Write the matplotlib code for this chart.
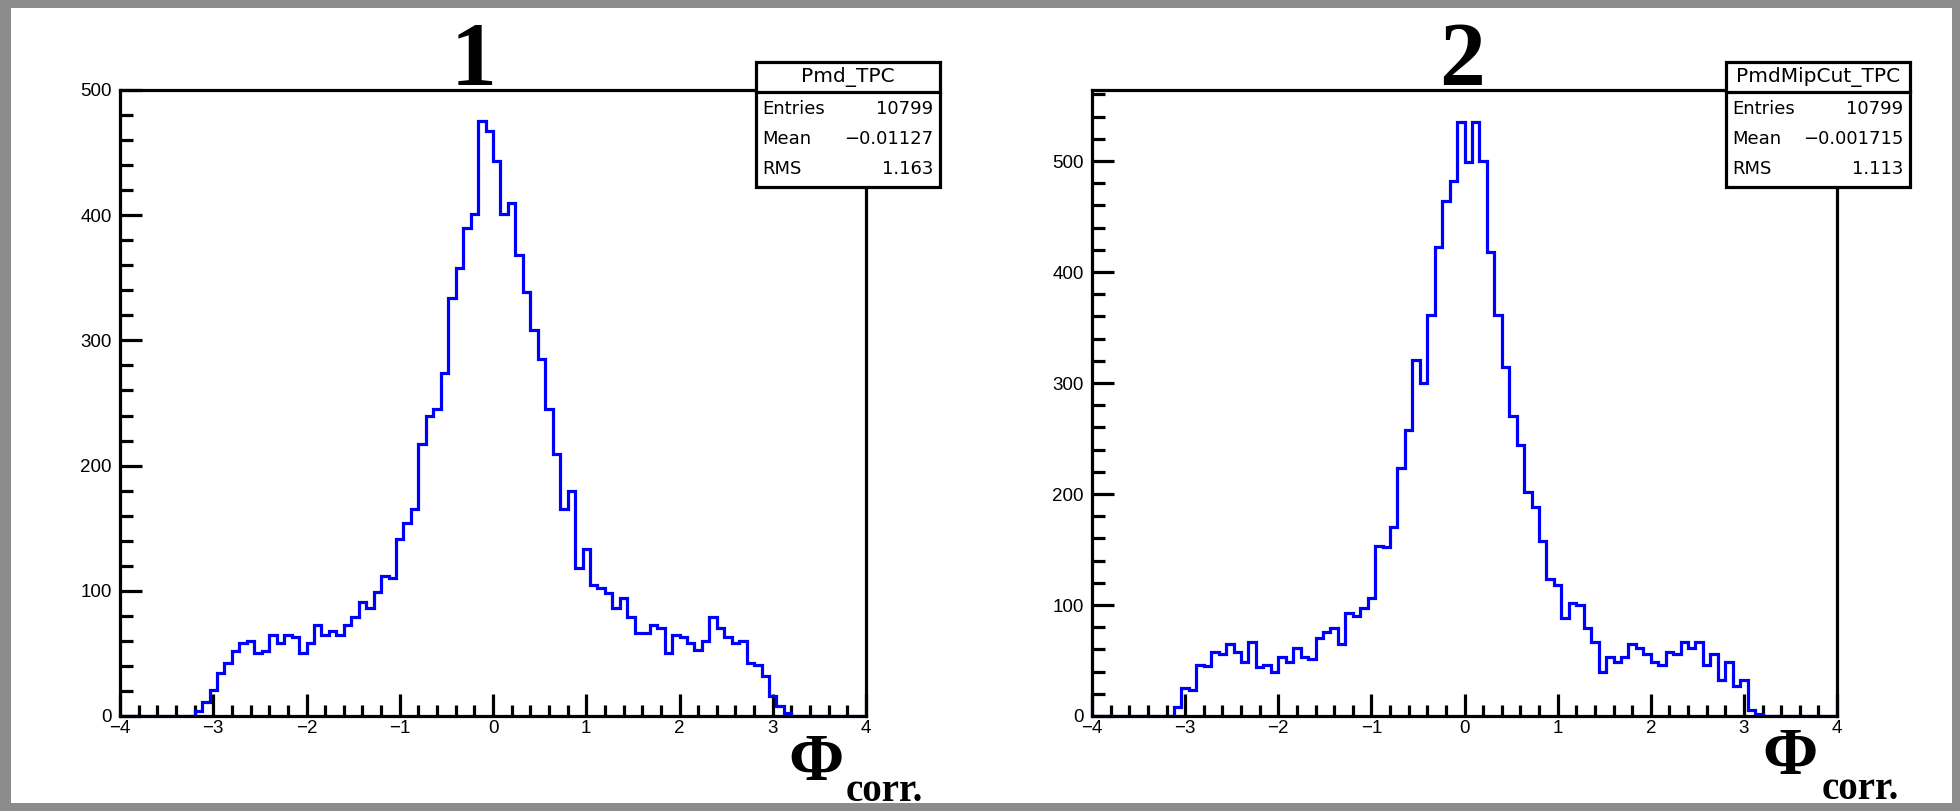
import matplotlib.pyplot as plt
import numpy as np
from matplotlib.patches import Rectangle
from matplotlib.ticker import MultipleLocator

# phi_corr histograms, 100 bins over [-4, 4]
bin_edges = np.linspace(-4, 4, 101)

pmd_tpc = [0] * 10 + [
    4, 11, 21, 34, 42, 52, 58, 60, 50, 52,
    65, 58, 65, 63, 50, 58, 73, 65, 68, 65,
    73, 79, 91, 86, 99, 112, 110, 141, 154, 165,
    217, 240, 245, 274, 334, 358, 390, 401, 475, 467,
    443, 401, 410, 368, 339, 308, 285, 245, 209, 165,
    180, 118, 133, 105, 102, 98, 86, 94, 79, 66,
    66, 73, 70, 50, 65, 63, 58, 53, 60, 79,
    70, 63, 58, 60, 42, 41, 32, 16, 8, 2,
] + [0] * 10

pmd_mipcut_tpc = [0] * 11 + [
    8, 25, 23, 46, 45, 58, 56, 65, 58, 49,
    67, 44, 46, 40, 53, 49, 61, 53, 51, 70,
    76, 79, 65, 93, 90, 97, 106, 153, 152, 170,
    223, 258, 321, 300, 361, 423, 464, 482, 535,
    499, 535, 500, 418, 361, 314, 270, 244, 202, 188,
    158, 123, 118, 88, 102, 100, 79, 67, 40, 53,
    49, 53, 65, 61, 56, 49, 46, 58, 56, 67,
    61, 67, 46, 56, 32, 49, 27, 32, 5, 2,
] + [0] * 10

panel_titles = ["1", "2"]
hist_names = ["Pmd_TPC", "PmdMipCut_TPC"]
stat_labels = ["Entries", "Mean", "RMS"]
stat_values = [
    ["10799", "\u22120.01127", "1.163"],
    ["10799", "\u22120.001715", "1.113"],
]
y_max = [500, 564]

W, H = 1960, 811
fig = plt.figure(figsize=(W / 100, H / 100), dpi=100)
fig.patch.set_facecolor("#8c8c8c")
# white canvas inside the grey frame
fig.patches.append(Rectangle((11 / W, 1 - 803 / H), (1952 - 11) / W, (803 - 8) / H,
                             transform=fig.transFigure, facecolor="white",
                             edgecolor="none", zorder=-5))


def fx(x):
    return x / W


def fy(y):
    return 1 - y / H


def draw_panel(left, right, counts, title, name, values, ymax, title_x, box_x,
               phi_xy, corr_xy):
    ax = fig.add_axes([fx(left), fy(716), fx(right - left), (716 - 90) / H])
    ax.stairs(counts, bin_edges, color="#0000ff", linewidth=2.3, zorder=2)
    ax.set_xlim(-4, 4)
    ax.set_ylim(0, ymax)
    for s in ax.spines.values():
        s.set_linewidth(2.3)
    ax.xaxis.set_major_locator(MultipleLocator(1))
    ax.xaxis.set_minor_locator(MultipleLocator(0.2))
    ax.yaxis.set_major_locator(MultipleLocator(100))
    ax.yaxis.set_minor_locator(MultipleLocator(20))
    ax.tick_params(which="both", direction="in", top=False, right=False, width=2.3,
                   labelsize=13.5, colors="black")
    ax.tick_params(axis="y", which="major", length=16, pad=6)
    ax.tick_params(axis="y", which="minor", length=9)
    ax.tick_params(axis="x", which="major", length=16, pad=3)
    ax.tick_params(axis="x", which="minor", length=8)
    for lab in ax.get_xticklabels() + ax.get_yticklabels():
        lab.set_family("Liberation Sans")

    fig.text(fx(title_x), fy(85), title, ha="center", va="baseline",
             family="Liberation Serif", weight="bold", fontsize=66)

    # stats box
    bx0, bx1 = box_x
    fig.patches.append(Rectangle((fx(bx0), fy(187)), fx(bx1 - bx0), (187 - 62) / H,
                                 transform=fig.transFigure, facecolor="white",
                                 edgecolor="black", linewidth=2.3, zorder=5))
    fig.lines.append(plt.Line2D([fx(bx0), fx(bx1)], [fy(92), fy(92)],
                                transform=fig.transFigure, color="black",
                                linewidth=2.3, zorder=6))
    fig.text(fx((bx0 + bx1) / 2), fy(77), name, ha="center", va="center",
             fontsize=14.5, zorder=7)
    for i, (lab, val) in enumerate(zip(stat_labels, values)):
        yy = fy(109 + 30 * i)
        fig.text(fx(bx0 + 6), yy, lab, ha="left", va="center", fontsize=13,
                 zorder=7)
        fig.text(fx(bx1 - 7), yy, val, ha="right", va="center", fontsize=13,
                 zorder=7)

    # axis title
    fig.text(fx(phi_xy[0]), fy(phi_xy[1]), "\u03a6", ha="center", va="center",
             family="Liberation Serif", weight="bold", fontsize=48, zorder=7)
    fig.text(fx(corr_xy[0]), fy(corr_xy[1]), "corr.", ha="left", va="baseline",
             family="Liberation Serif", weight="bold", fontsize=28, zorder=7)
    return ax


draw_panel(120, 866, pmd_tpc, panel_titles[0], hist_names[0], stat_values[0],
           y_max[0], 474, (756, 940), (816, 764), (846, 801))
draw_panel(1092, 1837, pmd_mipcut_tpc, panel_titles[1], hist_names[1], stat_values[1],
           y_max[1], 1462, (1726, 1910), (1790, 758), (1822, 799))

fig.savefig("out.png", dpi=100, facecolor=fig.get_facecolor())
